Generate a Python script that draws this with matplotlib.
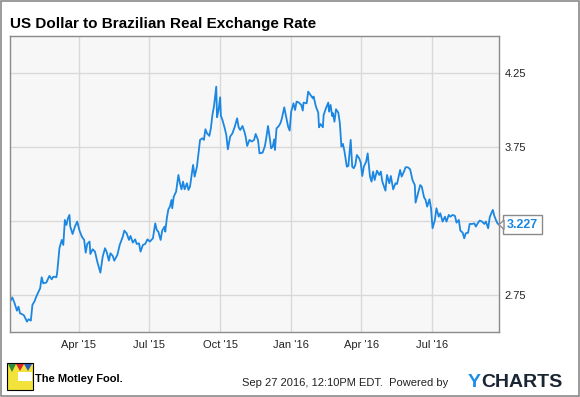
import matplotlib
matplotlib.use("Agg")

import matplotlib.pyplot as plt
from matplotlib.patches import Rectangle, Polygon
import pandas as pd

plt.rcParams["font.family"] = ["Liberation Sans", "DejaVu Sans"]

W, H = 580, 397

# === data ===
START = pd.Timestamp("2015-01-02")

days = [0, 3, 6, 9, 11, 13, 15, 18, 22, 24, 27, 29, 32, 34, 37, 39, 41, 43, 47, 51,
        54, 56, 60, 61, 64, 67, 69, 71, 73, 75, 77, 78, 81, 84, 87, 90, 93, 96, 98, 100,
        103, 104, 107, 110, 113, 117, 120, 123, 125, 128, 130, 133, 135, 139, 142, 146, 148, 151, 154, 156,
        159, 162, 164, 167, 169, 172, 175, 178, 181, 185, 188, 190, 192, 195, 197, 200, 201, 203, 205, 207,
        209, 210, 212, 215, 218, 220, 222, 224, 226, 229, 231, 233, 235, 237, 239, 242, 244, 246, 249, 251,
        253, 255, 258, 260, 262, 264, 267, 268, 270, 272, 273, 275, 278, 280, 282, 285, 288, 291, 294, 296,
        298, 301, 304, 305, 307, 310, 313, 316, 318, 321, 323, 327, 330, 332, 334, 336, 338, 340, 342, 343,
        345, 348, 350, 352, 355, 357, 360, 362,
        364, 367, 369, 371, 374, 377, 379, 380, 384, 386, 389, 392, 393, 396, 399, 400, 402, 405, 406, 409,
        412, 413, 415, 417, 418, 420, 422, 425, 427, 429, 431, 433, 436, 438, 441, 443, 445, 447, 449, 452,
        454, 456, 458, 461, 463, 466, 468, 470, 472, 475, 478, 480, 482, 486, 488, 491, 493, 496, 499, 501,
        505, 507, 510, 512, 515, 518, 521, 524, 525, 528, 531, 533, 536, 538, 540, 543, 545, 547, 550, 552,
        555, 557, 560, 563, 565, 568, 570, 573, 576, 578, 581, 583, 586, 588, 590, 593, 595, 598, 601, 603,
        606, 608, 611, 614, 616, 619, 621, 623, 625, 627, 629, 631, 633]

rates = [2.707, 2.736, 2.696, 2.646, 2.673, 2.628, 2.624, 2.615, 2.572, 2.588,
         2.579, 2.685, 2.712, 2.741, 2.775, 2.797, 2.872, 2.831, 2.836, 2.881,
         2.858, 2.876, 2.872, 2.899, 3.068, 3.124, 3.090, 3.259, 3.225, 3.270,
         3.293, 3.214, 3.164, 3.214, 3.248, 3.187, 3.146, 3.124, 3.038, 3.097,
         3.113, 3.029, 3.061, 3.045, 2.977, 2.903, 3.011, 3.068, 3.045, 2.984,
         3.034, 3.016, 2.984, 3.023, 3.090, 3.146, 3.187, 3.169, 3.124, 3.151,
         3.106, 3.128, 3.097, 3.101, 3.045, 3.090, 3.097, 3.128, 3.113, 3.135,
         3.236, 3.191, 3.180, 3.124, 3.187, 3.214, 3.180, 3.270, 3.331, 3.349,
         3.394, 3.338, 3.417, 3.450, 3.563, 3.507, 3.466, 3.518, 3.466, 3.507,
         3.462, 3.484, 3.556, 3.631, 3.552, 3.619, 3.709, 3.800, 3.811, 3.800,
         3.872, 3.845, 3.827, 3.878, 3.968, 4.025, 4.160, 3.953, 4.002, 4.088,
         3.962, 3.935, 3.878, 3.833, 3.736, 3.822, 3.845, 3.890, 3.946, 3.885,
         3.867, 3.894, 3.845, 3.822, 3.759, 3.800, 3.789, 3.800, 3.840, 3.800,
         3.709, 3.714, 3.759, 3.822, 3.894, 3.822, 3.743, 3.754, 3.804, 3.732,
         3.878, 3.894, 3.912, 3.946, 4.020, 3.968, 3.890, 3.863,
         3.991, 4.047, 4.002, 4.059, 4.052, 4.036, 3.998, 4.052, 4.047, 4.126,
         4.104, 4.081, 4.093, 4.025, 3.984, 3.885, 3.907, 3.885, 3.968, 4.014,
         4.052, 3.991, 4.036, 3.962, 3.980, 3.923, 4.007, 3.984, 3.912, 3.755,
         3.773, 3.721, 3.619, 3.624, 3.800, 3.619, 3.608, 3.631, 3.698, 3.676,
         3.646, 3.556, 3.619, 3.653, 3.709, 3.552, 3.518, 3.586, 3.529, 3.592,
         3.563, 3.586, 3.518, 3.457, 3.563, 3.507, 3.556, 3.466, 3.507, 3.502,
         3.597, 3.552, 3.586, 3.615, 3.615, 3.601, 3.529, 3.495, 3.376, 3.435,
         3.495, 3.484, 3.412, 3.394, 3.349, 3.399, 3.338, 3.203, 3.259, 3.338,
         3.281, 3.304, 3.248, 3.281, 3.248, 3.293, 3.281, 3.293, 3.286, 3.241,
         3.259, 3.187, 3.173, 3.135, 3.169, 3.173, 3.232, 3.232, 3.236, 3.214,
         3.241, 3.255, 3.248, 3.232, 3.248, 3.203, 3.277, 3.304, 3.327, 3.286,
         3.259, 3.236, 3.227]

tick_dates = ["2015-04-01", "2015-07-01", "2015-10-01", "2016-01-01", "2016-04-01", "2016-07-01"]
tick_labels = ["Apr '15", "Jul '15", "Oct '15", "Jan '16", "Apr '16", "Jul '16"]
y_ticks = [2.75, 3.25, 3.75, 4.25]
y_labels = ["2.75", "", "3.75", "4.25"]

dates = [START + pd.Timedelta(days=d) for d in days]


def px(x, y):
    # pixel position -> figure fraction
    return x / W, 1 - y / H


# === figure ===
fig = plt.figure(figsize=(W / 100, H / 100), dpi=100)
fig.patch.set_facecolor("white")

ax = fig.add_axes([10 / W, 1 - 332 / H, 489 / W, 296 / H])
ax.set_facecolor("#f7f7f7")
ax.plot(dates, rates, color="#1b87e2", lw=1.3, solid_joinstyle="round")

ax.set_xlim(dates[0], dates[-1])
ax.set_ylim(2.502, 4.502)
ax.set_xticks([pd.Timestamp(d) for d in tick_dates])
ax.set_xticklabels(tick_labels)
ax.set_yticks(y_ticks)
ax.set_yticklabels(y_labels)
ax.yaxis.tick_right()
ax.tick_params(axis="both", length=0, labelsize=8, colors="#222222")
ax.tick_params(axis="y", pad=4)
ax.tick_params(axis="x", pad=6)
ax.grid(True, color="#d9d9d9", lw=1)
ax.set_axisbelow(True)
for s in ax.spines.values():
    s.set_color("#8a8a8a")
    s.set_linewidth(1)

# last value label with pointer
last = rates[-1]
trans = matplotlib.transforms.blended_transform_factory(ax.transAxes, ax.transData)
ax.text(1.0 + 8 / 489, last, f"{last:.3f}", transform=trans, va="center", ha="left",
        fontsize=9, fontweight="bold", color="#1b87e2", clip_on=False,
        bbox=dict(boxstyle="square,pad=0.3", fc="white", ec="#8a8a8a", lw=1))
ax.add_patch(Polygon([(1.0, last), (1.0 + 5 / 489, last + 0.032), (1.0 + 5 / 489, last - 0.032)],
                     closed=True, transform=trans, fc="white", ec="#8a8a8a", lw=1,
                     clip_on=False, zorder=5))

# title
fig.text(*px(10, 28), "US Dollar to Brazilian Real Exchange Rate", fontsize=11,
         fontweight="bold", color="black", ha="left", va="baseline")

# outer frame
fig.add_artist(Rectangle(px(0.5, 395.5), 578 / W, 395 / H, transform=fig.transFigure,
                         fill=False, ec="#8a8a8a", lw=1.2))

# footer: Motley Fool logo (rough)
fig.add_artist(Rectangle(px(7, 390), 26 / W, 27 / H, transform=fig.transFigure,
                         fc="#f2e23a", ec="black", lw=0.8))
fig.add_artist(Polygon([px(8, 364), px(16, 364), px(12, 372)], closed=True,
                       transform=fig.transFigure, fc="#2e8b3a", ec="none"))
fig.add_artist(Polygon([px(16, 364), px(24, 364), px(20, 371)], closed=True,
                       transform=fig.transFigure, fc="#d8262c", ec="none"))
fig.add_artist(Polygon([px(24, 364), px(32, 364), px(28, 371)], closed=True,
                       transform=fig.transFigure, fc="#2a5cc0", ec="none"))
fig.add_artist(Rectangle(px(18, 381), 14 / W, 9 / H, transform=fig.transFigure,
                         fc="white", ec="none"))
fig.text(*px(35, 382), "The Motley Fool.", fontsize=8, fontweight="bold",
         color="black", ha="left", va="baseline")

# footer: timestamp + ycharts
fig.text(*px(242, 386), "Sep 27 2016, 12:10PM EDT.  Powered by", fontsize=8,
         color="#222222", ha="left", va="baseline")
fig.text(*px(468, 387), "Y", fontsize=14, fontweight="bold", color="#1b8ee6",
         ha="left", va="baseline")
fig.text(*px(481, 387), "CHARTS", fontsize=14, fontweight="bold", color="#1a2533",
         ha="left", va="baseline")

fig.savefig("out.png", dpi=100)
plt.close(fig)
